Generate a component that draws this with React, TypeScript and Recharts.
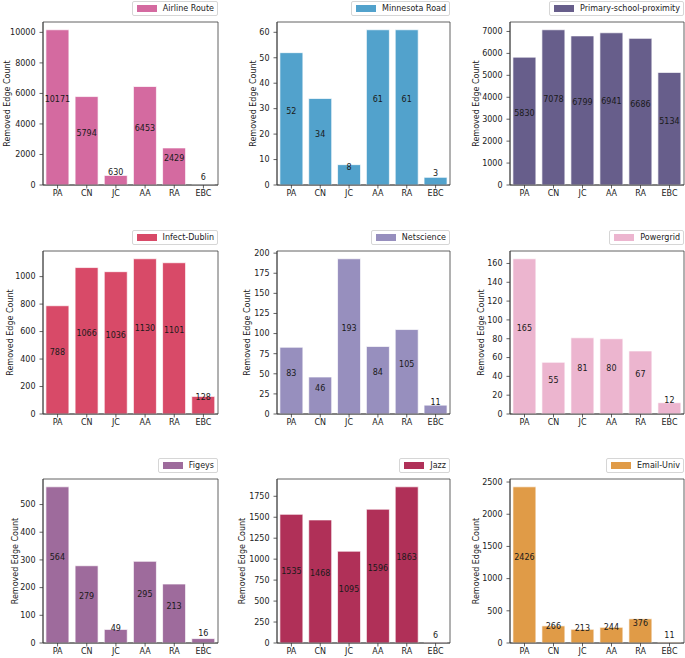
import React from "react"
import { BarChart, Bar, XAxis, YAxis, Legend, LabelList, ReferenceArea } from "recharts"

const categories = ["PA", "CN", "JC", "AA", "RA", "EBC"]

const airlineRoute = [10171, 5794, 630, 6453, 2429, 6]
const minnesotaRoad = [52, 34, 8, 61, 61, 3]
const primarySchool = [5830, 7078, 6799, 6941, 6686, 5134]
const infectDublin = [788, 1066, 1036, 1130, 1101, 128]
const netscience = [83, 46, 193, 84, 105, 11]
const powergrid = [165, 55, 81, 80, 67, 12]
const figeys = [564, 279, 49, 295, 213, 16]
const jazz = [1535, 1468, 1095, 1596, 1863, 6]
const emailUniv = [2426, 266, 213, 244, 376, 11]

const airlineTicks = [0, 2000, 4000, 6000, 8000, 10000]
const minnesotaTicks = [0, 10, 20, 30, 40, 50, 60]
const schoolTicks = [0, 1000, 2000, 3000, 4000, 5000, 6000, 7000]
const dublinTicks = [0, 200, 400, 600, 800, 1000]
const netscienceTicks = [0, 25, 50, 75, 100, 125, 150, 175, 200]
const powergridTicks = [0, 20, 40, 60, 80, 100, 120, 140, 160]
const figeysTicks = [0, 100, 200, 300, 400, 500]
const jazzTicks = [0, 250, 500, 750, 1000, 1250, 1500, 1750]
const emailTicks = [0, 500, 1000, 1500, 2000, 2500]

const FONT = "'DejaVu Sans', sans-serif"
const INK = "#3a3a3a"

// grid geometry (page pixels)
const colX = [0, 228, 456]
const rowY = [0, 228, 456]
const plotL = [43, 277, 510]
const plotR = [218, 450, 684]
const plotT = [22, 251, 479]
const plotB = [185, 414, 643]
const CW = 229
const CH = 202

const panels = [
  { name: "Airline Route", values: airlineRoute, color: "#d46aa0", ticks: airlineTicks, labelX: 7 },
  { name: "Minnesota Road", values: minnesotaRoad, color: "#52a2cc", ticks: minnesotaTicks, labelX: 253 },
  { name: "Primary-school-proximity", values: primarySchool, color: "#675e8b", ticks: schoolTicks, labelX: 476 },
  { name: "Infect-Dublin", values: infectDublin, color: "#d84a68", ticks: dublinTicks, labelX: 10 },
  { name: "Netscience", values: netscience, color: "#978fbe", ticks: netscienceTicks, labelX: 247 },
  { name: "Powergrid", values: powergrid, color: "#ecb5cf", ticks: powergridTicks, labelX: 481 },
  { name: "Figeys", values: figeys, color: "#9e6b9c", ticks: figeysTicks, labelX: 15 },
  { name: "Jazz", values: jazz, color: "#b03058", ticks: jazzTicks, labelX: 242 },
  { name: "Email-Univ", values: emailUniv, color: "#e09b47", ticks: emailTicks, labelX: 476 },
]

function Panel({ idx }: { idx: number }) {
  const p = panels[idx]
  const c = idx % 3
  const r = Math.floor(idx / 3)
  const x0 = colX[c]
  const y0 = rowY[r]
  const top = plotT[r] - y0
  const bottom = CH - (plotB[r] - y0) - 15
  const yAxisW = plotL[c] - x0
  const right = CW - (plotR[c] - x0)
  const data = categories.map((name, i) => ({ name, value: p.values[i] }))
  const ymax = Math.max(...p.values) * 1.05
  const midY = (plotT[r] + plotB[r]) / 2 - y0
  const lx = p.labelX - x0

  const renderLegend = () => (
    <div
      style={{
        display: "flex",
        alignItems: "center",
        background: "#fff",
        border: "1px solid #d6d6d6",
        borderRadius: 2,
        height: 13,
        padding: "0 3px 0 4px",
        fontFamily: FONT,
        fontSize: 8,
        color: "#222",
        whiteSpace: "nowrap",
      }}
    >
      <span style={{ display: "inline-block", width: 20, height: 7, background: p.color, marginRight: 6 }} />
      <span>{p.name}</span>
    </div>
  )

  const renderValue = (props: any) => {
    const { x, y, width, height, value } = props
    return (
      <text
        x={Number(x) + Number(width) / 2}
        y={Number(y) + Number(height) / 2 - 5}
        textAnchor="middle"
        fontSize={8}
        fontFamily={FONT}
        fill="#1a1a1a"
      >
        {value}
      </text>
    )
  }

  const renderYLabel = () => (
    <text
      x={lx}
      y={midY}
      transform={`rotate(-90 ${lx} ${midY})`}
      textAnchor="middle"
      dominantBaseline="central"
      fontSize={8}
      fontFamily={FONT}
      fill="#1a1a1a"
    >
      Removed Edge Count
    </text>
  )

  const tickStyle = { fontSize: 8, fontFamily: FONT, fill: "#222" }

  return (
    <div style={{ position: "absolute", left: x0, top: y0 }}>
      <BarChart
        width={CW}
        height={CH}
        data={data}
        margin={{ top, right, bottom, left: 0 }}
        barCategoryGap="10%"
      >
        <XAxis
          dataKey="name"
          height={15}
          tick={tickStyle}
          tickSize={3.5}
          tickMargin={1.5}
          stroke={INK}
          strokeWidth={0.8}
          interval={0}
        />
        <YAxis
          width={yAxisW}
          domain={[0, ymax]}
          ticks={p.ticks}
          tick={tickStyle}
          tickSize={3.5}
          tickMargin={4}
          stroke={INK}
          strokeWidth={0.8}
          allowDataOverflow
          label={{ content: renderYLabel }}
        />
        <Legend
          layout="vertical"
          align="center"
          verticalAlign="middle"
          content={renderLegend}
          wrapperStyle={{ top: plotT[r] - 21 - y0, right, left: "auto", width: "auto" }}
        />
        <Bar
          dataKey="value"
          fill={p.color}
          stroke="#ffffff"
          strokeOpacity={0.7}
          strokeWidth={1}
          isAnimationActive={false}
        >
          <LabelList dataKey="value" content={renderValue} />
        </Bar>
        <ReferenceArea
          y1={0}
          y2={ymax}
          fill="none"
          fillOpacity={0}
          stroke={INK}
          strokeWidth={0.8}
          ifOverflow="visible"
        />
      </BarChart>
    </div>
  )
}

export default function App() {
  return (
    <div style={{ position: "absolute", left: 0, top: 0, width: 685, height: 658, background: "#fff" }}>
      {panels.map((_, i) => (
        <Panel key={i} idx={i} />
      ))}
    </div>
  )
}
